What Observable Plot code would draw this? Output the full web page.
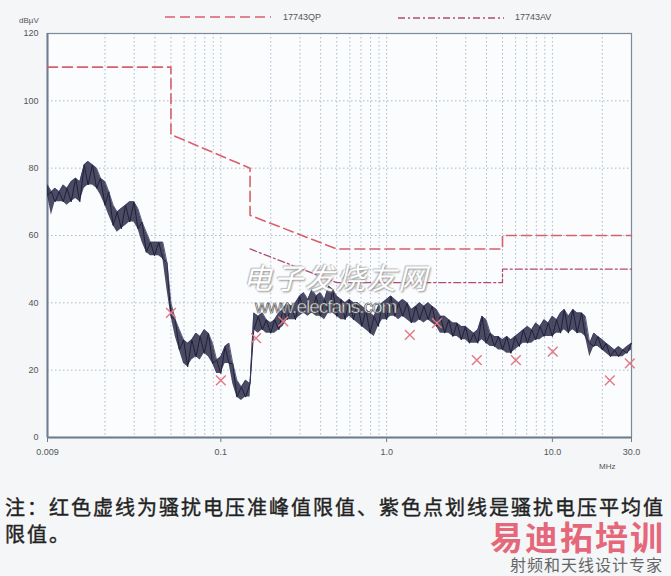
<!DOCTYPE html>
<html><head><meta charset="utf-8">
<script src="https://cdn.jsdelivr.net/npm/d3@7"></script>
<script src="https://cdn.jsdelivr.net/npm/@observablehq/plot@0.6"></script>
<style>
body{margin:0;background:#f4f6f8;}
#wrap{position:relative;width:671px;height:576px;overflow:hidden;font-family:"Liberation Sans",Arial,sans-serif;background:#f4f6f8;}
#chart{position:absolute;left:0;top:0;}
.abs{position:absolute;white-space:nowrap;line-height:1;}
.leg{font-size:9px;color:#555;}
.cap{left:5px;font-family:"Liberation Sans","Noto Sans CJK SC",sans-serif;font-weight:normal;font-size:20px;letter-spacing:2px;color:#222;-webkit-text-stroke:0.4px #222;}
</style></head>
<body><div id="wrap"><div id="chart"></div></div>
<script>
// ---- data ----
const traceFreq = [
0.009,0.0095,0.01,0.0106,0.0112,0.0118,0.0125,0.0133,0.0141,0.015,0.0158,0.0168,0.0178,0.0188,0.02,0.0211,0.0224,0.0237,0.0251,0.0266,0.0282,0.0299,0.0316,0.0335,0.0355,0.0376,0.0398,0.0422,0.0447,0.0473,0.05,0.0531,0.0562,0.0596,0.0631,0.0668,0.0708,0.075,0.0794,0.0841,0.0891,0.0944,
0.1,0.106,0.112,0.118,0.125,0.133,0.141,0.15,0.158,0.168,0.178,0.188,0.2,0.211,0.224,0.237,0.251,0.266,0.282,0.299,0.316,0.335,0.355,0.376,0.398,0.422,0.447,0.473,0.5,0.531,0.562,0.596,0.631,0.668,0.708,0.75,0.794,0.841,0.891,0.944,
1,1.06,1.12,1.18,1.25,1.33,1.41,1.5,1.58,1.68,1.78,1.88,2,2.11,2.24,2.37,2.51,2.66,2.82,2.99,3.16,3.35,3.55,3.76,3.98,4.22,4.47,4.73,5,5.31,5.62,5.96,6.31,6.68,7.08,7.5,7.94,8.41,8.91,9.44,
10,10.6,11.2,11.8,12.5,13.3,14.1,15,15.8,16.8,17.8,18.8,20,21.1,22.4,23.7,25.1,26.6,28.2,30];
const traceHi = [
75,73,74,73,75,74,76,77,76,81,82,81,80,77,76,73,69,67,68,69,70,70,68,64,61,58,58,58,58,52,40,35,32,29,28,29,31,30,32,31,28,23,
24,27,28,22,17,15,17,16,37,36,37,35,34,35,37,38,40,39,40,42,43,41,44,42,43,41,45,44,42,41,40,41,40,40,39,38,37,36,39,40,
41,42,41,40,41,40,38,39,40,39,40,39,38,36,36,35,34,34,33,33,32,31,32,36,35,31,30,30,29,30,29,30,31,32,33,32,34,33,35,34,
36,35,37,38,36,38,37,37,36,28,31,30,29,28,27,26,27,26,27,28];
const traceLo = [
72,66,70,70,70,69,70,71,70,74,75,75,74,72,69,66,63,61,62,63,64,64,62,58,55,54,54,54,53,44,36,30,26,22,21,23,24,23,25,24,22,19,
19,22,22,16,12,11,12,12,32,31,32,31,31,31,32,33,35,35,35,36,37,36,37,36,36,35,37,37,36,35,35,36,35,34,33,32,31,30,33,35,
35,36,36,35,36,35,34,34,35,34,35,34,33,31,31,31,30,30,29,29,28,28,28,29,28,27,27,26,26,25,25,26,27,28,28,28,29,29,30,30,
30,31,31,32,31,32,31,31,30,24,27,27,26,25,24,24,24,24,25,26];
const qpFreq  = [0.009,0.05,0.05,0.15,0.15,0.5,5,5,30];
const qpLevel = [110,110,90,80,66,56,56,60,60];
const avFreq  = [0.15,0.5,5,5,30];
const avLevel = [56,46,46,50,50];
const markFreq  = [0.05,0.1,0.163,0.238,1.38,2.01,3.5,6.02,10.05,22.2,29.3];
const markLevel = [37,17,29.5,34.5,30.5,34,23,23,25.5,17,22];
const gridFreq = [0.02,0.03,0.04,0.05,0.06,0.07,0.08,0.09,0.1,0.2,0.3,0.4,0.5,0.6,0.7,0.8,0.9,1,2,3,4,5,6,7,8,9,10,20];
const gridLevel = [20,40,60,80,100];
const xTicks = [0.009,0.1,1,10,30];
const xTickLabels = ["0.009","0.1","1.0","10.0","30.0"];
const yTicks = [0,20,40,60,80,100,120];
const legendLabels = ["17743QP","17743AV"];

// ---- tables ----
const trace = traceFreq.map((f,i)=>({f, hi:traceHi[i], lo:traceLo[i], z: i%2 ? traceHi[i] : traceLo[i]}));
const qp = qpFreq.map((f,i)=>({f, v:qpLevel[i]}));
const av = avFreq.map((f,i)=>({f, v:avLevel[i]}));
const marks = markFreq.map((f,i)=>({f, v:markLevel[i]}));
const xLab = xTicks.map((f,i)=>({f, t:xTickLabels[i]}));

const QP_COLOR = "#d95f6c", AV_COLOR = "#b04a72", TRACE = "#1f1f3c";

const plot = Plot.plot({
  width: 671, height: 480,
  marginLeft: 47, marginRight: 40, marginTop: 33, marginBottom: 43,
  x: {type: "log", domain: [0.009, 30]},
  y: {domain: [0, 120]},
  style: {background: "transparent", fontFamily: "Liberation Sans, Arial, sans-serif", fontSize: "9px", color: "#555"},
  marks: [
    Plot.frame({fill: "#fbfcfd", stroke: "none"}),
    Plot.ruleX(gridFreq, {stroke: "#a9b9cc", strokeWidth: 1, strokeDasharray: "1.5,2.5"}),
    Plot.ruleY(gridLevel, {stroke: "#a9b9cc", strokeWidth: 1, strokeDasharray: "1.5,2.5"}),
    Plot.frame({stroke: "#7d8a9c", strokeWidth: 1.2}),
    Plot.ruleY([0], {stroke: "#6f7d90", strokeWidth: 2}),
    Plot.ruleX([0.009], {stroke: "#6f7d90", strokeWidth: 2}),
    Plot.line(qp, {x: "f", y: "v", stroke: QP_COLOR, strokeWidth: 1.6, strokeDasharray: "10,5"}),
    Plot.line(av, {x: "f", y: "v", stroke: AV_COLOR, strokeWidth: 1.3, strokeDasharray: "7,3,2,3"}),
    Plot.areaY(trace, {x: "f", y1: "lo", y2: "hi", fill: TRACE, fillOpacity: 0.8}),
    Plot.line(trace, {x: "f", y: "z", stroke: TRACE, strokeWidth: 1}),
    Plot.line(trace, {x: "f", y: "hi", stroke: "#3a3a66", strokeWidth: 0.8}),
    Plot.dot(marks, {x: "f", y: "v", symbol: "times", r: 4.5, stroke: "#e07a86", strokeWidth: 1.4}),
    Plot.axisY({ticks: yTicks, tickSize: 0, tickPadding: 9, label: null, fill: "#555"}),
    Plot.axisX({ticks: xTicks, tickFormat: () => "", tickSize: 5, label: null, stroke: "#6f7d90"}),
    Plot.text(xLab, {x: "f", text: "t", frameAnchor: "bottom", dy: 17, fill: "#555", fontSize: 9})
  ]
});
document.getElementById("chart").appendChild(plot);

const wrap = document.getElementById("wrap");
function add(html){ wrap.insertAdjacentHTML("beforeend", html); }
// legend
add(`<svg class="abs" style="left:163px;top:12px" width="112" height="10"><line x1="2" y1="5" x2="108" y2="5" stroke="${QP_COLOR}" stroke-width="1.6" stroke-dasharray="10,5"/></svg>`);
add(`<div class="abs leg" style="left:283px;top:13px">${legendLabels[0]}</div>`);
add(`<svg class="abs" style="left:396px;top:13px" width="112" height="10"><line x1="2" y1="5" x2="108" y2="5" stroke="${AV_COLOR}" stroke-width="1.3" stroke-dasharray="7,3,2,3"/></svg>`);
add(`<div class="abs leg" style="left:515px;top:13px">${legendLabels[1]}</div>`);
add(`<div class="abs" style="left:19px;top:17px;font-size:8px;color:#555">dBµV</div>`);
add(`<div class="abs" style="left:599px;top:463px;font-size:8px;color:#555">MHz</div>`);
// watermarks
add(`<div class="abs" style="left:243px;top:262px;font-family:'Noto Sans CJK SC';font-size:29px;font-style:italic;letter-spacing:2px;color:#fff;text-shadow:1px 1px 2px #8a8a8a,-1px -1px 1px #bbb;opacity:0.95">电子发烧友网</div>`);
add(`<div class="abs" style="left:255px;top:297px;font-family:'Liberation Sans';font-size:19px;letter-spacing:-1px;color:#fff;-webkit-text-stroke:0.7px #555;">www.elecfans.com</div>`);
// caption
add(`<div class="abs cap" style="top:498px">注：红色虚线为骚扰电压准峰值限值、紫色点划线是骚扰电压平均值</div>`);
add(`<div class="abs cap" style="top:525px">限值。</div>`);
add(`<div class="abs" style="left:490px;top:522px;font-family:'Liberation Sans','Noto Sans CJK SC';font-weight:bold;font-size:33px;letter-spacing:2px;color:#e5677a">易迪拓培训</div>`);
add(`<div class="abs" style="left:510px;top:558px;font-family:'Liberation Sans','Noto Sans CJK SC';font-size:16px;letter-spacing:1px;color:#666">射频和天线设计专家</div>`);
</script></body></html>
